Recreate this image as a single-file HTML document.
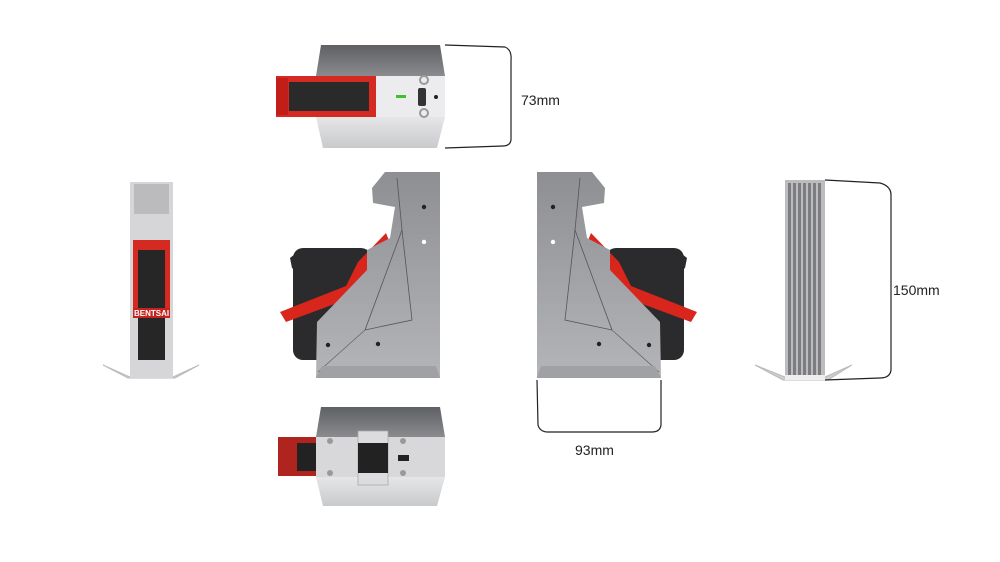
<!DOCTYPE html>
<html><head><meta charset="utf-8"><style>
html,body{margin:0;padding:0;background:#fff;width:1000px;height:562px;overflow:hidden}
svg{display:block}
text{font-family:"Liberation Sans",sans-serif;font-size:14px;fill:#222}
</style></head><body>
<svg width="1000" height="562" viewBox="0 0 1000 562">
<defs>
<linearGradient id="plate" x1="0" y1="0" x2="0" y2="1"><stop offset="0" stop-color="#8e8f93"/><stop offset="1" stop-color="#b4b5b8"/></linearGradient>
<linearGradient id="dark" x1="0" y1="0" x2="0" y2="1"><stop offset="0" stop-color="#5f6064"/><stop offset="1" stop-color="#8a8b8e"/></linearGradient>
<linearGradient id="light" x1="0" y1="0" x2="0" y2="1"><stop offset="0" stop-color="#e6e6e8"/><stop offset="1" stop-color="#c9cacc"/></linearGradient>
</defs>

<!-- TOP VIEW -->
<polygon points="321,45 440,45 445,76 316,76" fill="url(#dark)"/>
<polygon points="316,117 445,117 437,148 323,148" fill="url(#light)"/>
<rect x="316" y="76" width="129" height="41" fill="#d8d8da"/>
<rect x="375" y="76" width="70" height="41" fill="#ececee"/>
<rect x="276" y="76" width="100" height="41" fill="#d42a22"/>
<rect x="289" y="82" width="80" height="29" fill="#2a2a2a"/>
<rect x="276" y="78" width="12" height="37" fill="#c21d18"/>
<rect x="396" y="95" width="10" height="3" fill="#40c030"/>
<rect x="418" y="88" width="8" height="18" rx="2" fill="#333"/>
<circle cx="424" cy="80" r="4" fill="none" stroke="#999" stroke-width="2"/>
<circle cx="424" cy="113" r="4" fill="none" stroke="#999" stroke-width="2"/>
<circle cx="436" cy="97" r="2" fill="#222"/>
<path d="M445,45 L505,47 Q512,50 511,60 L511,140 Q510,146 503,146 L445,148" fill="none" stroke="#222" stroke-width="1.2"/>
<text x="521" y="105">73mm</text>

<!-- FRONT VIEW -->
<path d="M103,365 L130,377 L173,377 L199,365 L175,378 L128,378 Z" fill="#ccc" stroke="#bbb" stroke-width="1"/>
<rect x="130" y="182" width="43" height="196" fill="#d6d6d8"/>
<rect x="134" y="184" width="35" height="30" fill="#bbbbbd"/>
<rect x="133" y="240" width="37" height="78" fill="#d42a22"/>
<rect x="138" y="250" width="27" height="110" fill="#262626"/>
<rect x="133" y="308" width="37" height="10" fill="#c42420"/>
<text x="134" y="316" style="font-size:8px;fill:#fff;font-weight:bold">BENTSAI</text>

<!-- SIDE VIEW 1 -->
<g id="side">
<rect x="293" y="248" width="78" height="112" rx="10" fill="#2b2b2d"/>
<polygon points="290,258 300,250 300,275 292,268" fill="#2b2b2d"/>
<polygon points="280,312 346,286 358,262 386,233 390,243 368,270 356,296 286,322" fill="#d8261d"/>
<polygon points="385,172 440,172 440,378 316,378 317,322 367,270 367,250 390,238 395,207 373,203 372,188" fill="url(#plate)"/>
<path d="M397,178 L402,230 L365,330 L412,320 L402,230" fill="none" stroke="#555" stroke-width="0.8"/>
<path d="M318,372 L365,330" stroke="#666" stroke-width="0.8"/>
<circle cx="424" cy="207" r="2.2" fill="#222"/><circle cx="424" cy="242" r="2.2" fill="#fff"/>
<circle cx="378" cy="344" r="2.2" fill="#222"/><circle cx="328" cy="345" r="2.2" fill="#222"/>
<polygon points="316,378 440,378 436,366 322,366" fill="#a0a1a4"/>
</g>

<!-- SIDE VIEW 2 (mirror) -->
<g transform="translate(977,0) scale(-1,1)">
<rect x="293" y="248" width="78" height="112" rx="10" fill="#2b2b2d"/>
<polygon points="290,258 300,250 300,275 292,268" fill="#2b2b2d"/>
<polygon points="280,312 346,286 358,262 386,233 390,243 368,270 356,296 286,322" fill="#d8261d"/>
<polygon points="385,172 440,172 440,378 316,378 317,322 367,270 367,250 390,238 395,207 373,203 372,188" fill="url(#plate)"/>
<path d="M397,178 L402,230 L365,330 L412,320 L402,230" fill="none" stroke="#555" stroke-width="0.8"/>
<path d="M318,372 L365,330" stroke="#666" stroke-width="0.8"/>
<circle cx="424" cy="207" r="2.2" fill="#222"/><circle cx="424" cy="242" r="2.2" fill="#fff"/>
<circle cx="378" cy="344" r="2.2" fill="#222"/><circle cx="328" cy="345" r="2.2" fill="#222"/>
<polygon points="316,378 440,378 436,366 322,366" fill="#a0a1a4"/>
</g>
<path d="M537,380 L538,425 Q540,432 548,432 L652,432 Q660,432 661,425 L661,380" fill="none" stroke="#222" stroke-width="1.2"/>
<text x="575" y="455">93mm</text>

<!-- BOTTOM VIEW -->
<polygon points="321,407 440,407 445,437 316,437" fill="url(#dark)"/>
<rect x="316" y="437" width="129" height="40" fill="#d8d8da"/>
<polygon points="316,477 445,477 437,506 323,506" fill="url(#light)"/>
<rect x="278" y="437" width="38" height="39" fill="#b02420"/>
<rect x="297" y="443" width="19" height="28" fill="#222"/>
<rect x="358" y="431" width="30" height="54" fill="#dcdcde" stroke="#aaa" stroke-width="0.8"/>
<rect x="358" y="443" width="30" height="30" fill="#222"/>
<rect x="398" y="455" width="11" height="6" fill="#222"/>
<circle cx="330" cy="441" r="3" fill="#999"/><circle cx="330" cy="473" r="3" fill="#999"/>
<circle cx="403" cy="441" r="3" fill="#999"/><circle cx="403" cy="473" r="3" fill="#999"/>

<!-- RIGHT VIEW -->
<path d="M755,365 L785,377 L825,377 L852,365 L828,380 L783,380 Z" fill="#ccc" stroke="#bbb" stroke-width="1"/>
<rect x="785" y="180" width="40" height="200" fill="#bcbcbe"/>
<g fill="#7c7d80">
<rect x="788" y="183" width="3" height="195"/><rect x="793" y="183" width="3" height="195"/><rect x="798" y="183" width="3" height="195"/><rect x="803" y="183" width="3" height="195"/><rect x="808" y="183" width="3" height="195"/><rect x="813" y="183" width="3" height="195"/><rect x="818" y="183" width="3" height="195"/>
</g>
<rect x="785" y="375" width="40" height="5" fill="#eee"/>
<path d="M825,180 L880,183 Q891,186 891,195 L891,370 Q890,378 880,378 L825,380" fill="none" stroke="#222" stroke-width="1.2"/>
<text x="893" y="295">150mm</text>
</svg>
</body></html>
